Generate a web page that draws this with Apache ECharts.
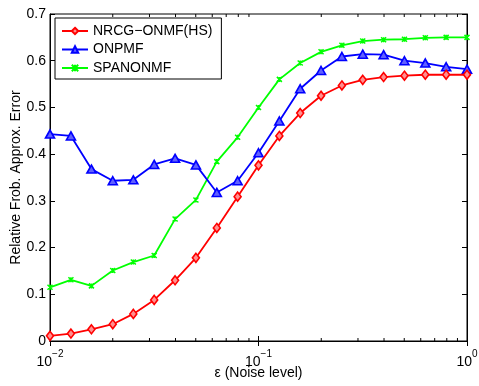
<!DOCTYPE html>
<html>
<head>
<meta charset="utf-8">
<script src="https://cdn.jsdelivr.net/npm/echarts@6/dist/echarts.min.js"></script>
<style>
  html, body { margin: 0; padding: 0; background: #fff; }
  #chart { width: 479px; height: 386px; }
</style>
</head>
<body>
<div id="chart"></div>
<script>
// noise levels (log spaced)
const noise = [0.01, 0.0126, 0.0158, 0.02, 0.0251, 0.0316, 0.0398, 0.0501, 0.0631, 0.0794,
  0.1, 0.1259, 0.1585, 0.1995, 0.2512, 0.3162, 0.3981, 0.5012, 0.631, 0.7943, 1];
const nrcg = [0.011, 0.016, 0.025, 0.036, 0.058, 0.088, 0.130, 0.178, 0.242, 0.309,
  0.376, 0.439, 0.488, 0.525, 0.547, 0.559, 0.565, 0.568, 0.570, 0.570, 0.570];
const onpmf = [0.443, 0.439, 0.368, 0.343, 0.345, 0.378, 0.391, 0.377, 0.318, 0.343,
  0.403, 0.471, 0.540, 0.579, 0.609, 0.614, 0.613, 0.600, 0.595, 0.587, 0.582];
const spanonmf = [0.115, 0.131, 0.118, 0.151, 0.169, 0.183, 0.261, 0.302, 0.384, 0.436,
  0.500, 0.560, 0.595, 0.619, 0.633, 0.642, 0.645, 0.646, 0.649, 0.650, 0.650];
const minorTicks = [0.02, 0.03, 0.04, 0.05, 0.06, 0.07, 0.08, 0.09,
  0.2, 0.3, 0.4, 0.5, 0.6, 0.7, 0.8, 0.9];
const supLabels = { '0.01': '−2', '0.1': '−1', '1': '0' };

const font = 'Liberation Sans, Arial, Helvetica, sans-serif';
const chart = echarts.init(document.getElementById('chart'));

const pairs = (ys) => ys.map((y, i) => [noise[i], y]);

chart.setOption({
  animation: false,
  textStyle: { fontFamily: font, color: '#000' },
  grid: {
    left: 50, right: 12, top: 14, bottom: 45,
    outerBoundsMode: 'none', containLabel: false,
    show: true, borderColor: '#000', borderWidth: 1
  },
  legend: {
    orient: 'vertical',
    left: 55, top: 18,
    data: ['NRCG−ONMF(HS)', 'ONPMF', 'SPANONMF'],
    itemWidth: 26, itemHeight: 8, itemGap: 2.5,
    padding: [5, 9, 3, 6],
    borderColor: '#000', borderWidth: 1, backgroundColor: '#fff',
    textStyle: { fontFamily: font, fontSize: 14, color: '#000', lineHeight: 16 }
  },
  xAxis: [{
    type: 'log', logBase: 10, min: 0.01, max: 1,
    name: 'ε (Noise level)', nameLocation: 'middle', nameGap: 25, nameMoveOverlap: false,
    nameTextStyle: { fontFamily: font, fontSize: 14, color: '#000' },
    axisLine: { lineStyle: { color: '#000', width: 1 } },
    axisTick: { inside: true, length: 5, lineStyle: { color: '#000' } },
    splitLine: { show: false },
    axisLabel: {
      margin: 12,
      formatter: (v) => '{b|10}{s|' + (supLabels[String(+v.toPrecision(3))] || '') + '}',
      rich: {
        b: { fontFamily: font, fontSize: 14, color: '#000', verticalAlign: 'bottom', lineHeight: 16, padding: [8, 0, 0, 0] },
        s: { fontFamily: font, fontSize: 10, color: '#000', verticalAlign: 'bottom', lineHeight: 12, padding: [0, 0, 10, 0] }
      }
    }
  }, {
    type: 'log', logBase: 10, min: 0.01, max: 1, position: 'top',
    axisLine: { show: true, lineStyle: { color: '#000' } },
    axisTick: { inside: true, length: 5, lineStyle: { color: '#000' } },
    axisLabel: { show: false }, splitLine: { show: false }
  }],
  yAxis: [{
    type: 'value', min: 0, max: 0.7, interval: 0.1,
    name: 'Relative Frob. Approx. Error', nameLocation: 'middle', nameGap: 27, nameMoveOverlap: false,
    nameTextStyle: { fontFamily: font, fontSize: 14, color: '#000' },
    axisLine: { show: true, lineStyle: { color: '#000' } },
    axisTick: { inside: true, length: 5, lineStyle: { color: '#000' } },
    splitLine: { show: false },
    axisLabel: {
      margin: 4, fontFamily: font, fontSize: 14, color: '#000',
      formatter: (v) => v === 0 ? '0' : v.toFixed(1)
    }
  }, {
    type: 'value', min: 0, max: 0.7, interval: 0.1, position: 'right',
    axisLine: { show: true, lineStyle: { color: '#000' } },
    axisTick: { inside: true, length: 5, lineStyle: { color: '#000' } },
    axisLabel: { show: false }, splitLine: { show: false }
  }],
  series: [{
    name: 'NRCG−ONMF(HS)', type: 'line', data: pairs(nrcg),
    symbol: 'diamond', symbolSize: [7, 9],
    lineStyle: { color: '#ff0000', width: 1.8 },
    itemStyle: { color: '#ff9090', borderColor: '#ff0000', borderWidth: 1.6 },
    z: 4
  }, {
    name: 'ONPMF', type: 'line', data: pairs(onpmf),
    symbol: 'triangle', symbolSize: [9, 8],
    lineStyle: { color: '#0000ff', width: 1.8 },
    itemStyle: { color: '#6060ff', borderColor: '#0000ff', borderWidth: 1.6 },
    z: 3
  }, {
    name: 'SPANONMF', type: 'line', data: pairs(spanonmf),
    symbol: 'path://M0,0L10,10M0,10L10,0M5,0L5,10', symbolSize: 5,
    lineStyle: { color: '#00ff00', width: 1.8 },
    itemStyle: { color: '#00ff00', borderColor: '#00ff00', borderWidth: 1.5 },
    z: 2
  }, {
    name: 'minor', type: 'custom', silent: true, clip: false, z: 5,
    data: minorTicks.map((v) => [v, 0]),
    encode: { x: 0, y: 1 },
    renderItem: (params, api) => {
      const bottom = api.coord([api.value(0), 0]);
      const top = api.coord([api.value(0), 0.7]);
      const st = { stroke: '#000', lineWidth: 1 };
      return {
        type: 'group',
        children: [
          { type: 'line', shape: { x1: bottom[0], y1: bottom[1], x2: bottom[0], y2: bottom[1] - 3 }, style: st },
          { type: 'line', shape: { x1: top[0], y1: top[1], x2: top[0], y2: top[1] + 3 }, style: st }
        ]
      };
    }
  }]
});
</script>
</body>
</html>
